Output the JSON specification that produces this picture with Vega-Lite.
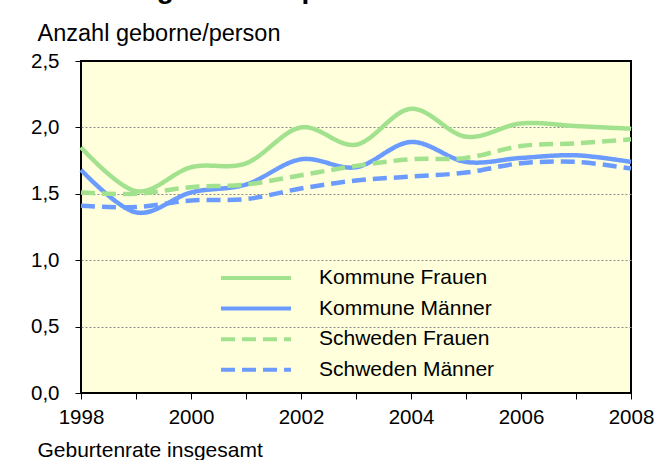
{
  "$schema": "https://vega.github.io/schema/vega-lite/v6.json",
  "width": 550,
  "height": 332,
  "autosize": {"type": "none"},
  "padding": {"left": 81, "top": 61, "right": 28, "bottom": 67},
  "background": "white",
  "title": {"text": "Entwicklung der Rate pro Person", "fontSize": 28, "fontWeight": "bold", "anchor": "start", "frame": "group", "orient": "top", "offset": 0, "dy": 5, "baseline": "alphabetic", "dx": -72, "color": "#000", "font": "Liberation Sans"},
  "data": {"values": [
    {"Jahr": 1998, "Wert": 1.85, "Serie": "Kommune Frauen"},
    {"Jahr": 1999, "Wert": 1.52, "Serie": "Kommune Frauen"},
    {"Jahr": 2000, "Wert": 1.70, "Serie": "Kommune Frauen"},
    {"Jahr": 2001, "Wert": 1.73, "Serie": "Kommune Frauen"},
    {"Jahr": 2002, "Wert": 2.00, "Serie": "Kommune Frauen"},
    {"Jahr": 2003, "Wert": 1.87, "Serie": "Kommune Frauen"},
    {"Jahr": 2004, "Wert": 2.14, "Serie": "Kommune Frauen"},
    {"Jahr": 2005, "Wert": 1.93, "Serie": "Kommune Frauen"},
    {"Jahr": 2006, "Wert": 2.03, "Serie": "Kommune Frauen"},
    {"Jahr": 2007, "Wert": 2.01, "Serie": "Kommune Frauen"},
    {"Jahr": 2008, "Wert": 1.99, "Serie": "Kommune Frauen"},
    {"Jahr": 1998, "Wert": 1.68, "Serie": "Kommune Männer"},
    {"Jahr": 1999, "Wert": 1.36, "Serie": "Kommune Männer"},
    {"Jahr": 2000, "Wert": 1.51, "Serie": "Kommune Männer"},
    {"Jahr": 2001, "Wert": 1.57, "Serie": "Kommune Männer"},
    {"Jahr": 2002, "Wert": 1.76, "Serie": "Kommune Männer"},
    {"Jahr": 2003, "Wert": 1.70, "Serie": "Kommune Männer"},
    {"Jahr": 2004, "Wert": 1.89, "Serie": "Kommune Männer"},
    {"Jahr": 2005, "Wert": 1.74, "Serie": "Kommune Männer"},
    {"Jahr": 2006, "Wert": 1.77, "Serie": "Kommune Männer"},
    {"Jahr": 2007, "Wert": 1.79, "Serie": "Kommune Männer"},
    {"Jahr": 2008, "Wert": 1.74, "Serie": "Kommune Männer"},
    {"Jahr": 1998, "Wert": 1.51, "Serie": "Schweden Frauen"},
    {"Jahr": 1999, "Wert": 1.50, "Serie": "Schweden Frauen"},
    {"Jahr": 2000, "Wert": 1.55, "Serie": "Schweden Frauen"},
    {"Jahr": 2001, "Wert": 1.57, "Serie": "Schweden Frauen"},
    {"Jahr": 2002, "Wert": 1.64, "Serie": "Schweden Frauen"},
    {"Jahr": 2003, "Wert": 1.71, "Serie": "Schweden Frauen"},
    {"Jahr": 2004, "Wert": 1.76, "Serie": "Schweden Frauen"},
    {"Jahr": 2005, "Wert": 1.77, "Serie": "Schweden Frauen"},
    {"Jahr": 2006, "Wert": 1.86, "Serie": "Schweden Frauen"},
    {"Jahr": 2007, "Wert": 1.88, "Serie": "Schweden Frauen"},
    {"Jahr": 2008, "Wert": 1.91, "Serie": "Schweden Frauen"},
    {"Jahr": 1998, "Wert": 1.41, "Serie": "Schweden Männer"},
    {"Jahr": 1999, "Wert": 1.40, "Serie": "Schweden Männer"},
    {"Jahr": 2000, "Wert": 1.45, "Serie": "Schweden Männer"},
    {"Jahr": 2001, "Wert": 1.46, "Serie": "Schweden Männer"},
    {"Jahr": 2002, "Wert": 1.54, "Serie": "Schweden Männer"},
    {"Jahr": 2003, "Wert": 1.60, "Serie": "Schweden Männer"},
    {"Jahr": 2004, "Wert": 1.63, "Serie": "Schweden Männer"},
    {"Jahr": 2005, "Wert": 1.66, "Serie": "Schweden Männer"},
    {"Jahr": 2006, "Wert": 1.73, "Serie": "Schweden Männer"},
    {"Jahr": 2007, "Wert": 1.74, "Serie": "Schweden Männer"},
    {"Jahr": 2008, "Wert": 1.69, "Serie": "Schweden Männer"}
  ]},
  "mark": {"type": "line", "interpolate": "cardinal", "strokeWidth": 4.5},
  "encoding": {
    "x": {
      "field": "Jahr", "type": "quantitative",
      "scale": {"domain": [1998, 2008], "nice": false, "zero": false},
      "axis": {
        "values": [1998, 1999, 2000, 2001, 2002, 2003, 2004, 2005, 2006, 2007, 2008],
        "format": "d",
        "labelExpr": "datum.value % 2 == 0 ? datum.label : ''",
        "labelOverlap": false,
        "labelFlush": false,
        "domain": false,
        "grid": false,
        "labelPadding": 8,
        "title": "Geburtenrate insgesamt",
        "titleFontSize": 21,
        "titleAnchor": "start",
        "titleAlign": "left",
        "titleBaseline": "alphabetic",
        "titleX": -44,
        "titleY": 63
      }
    },
    "y": {
      "field": "Wert", "type": "quantitative",
      "scale": {"domain": [0, 2.5], "nice": false},
      "axis": {
        "values": [0, 0.5, 1, 1.5, 2, 2.5],
        "labelExpr": "replace(format(datum.value, '.1f'), '.', ',')",
        "domain": false,
        "grid": true,
        "gridDash": [2, 2],
        "gridColor": "#8a8a8a",
        "gridOpacity": {"condition": {"test": "datum.value == 0 || datum.value == 2.5", "value": 0}, "value": 1},
        "labelPadding": 16,
        "title": "Anzahl geborne/person",
        "titleFontSize": 23.5,
        "titleAngle": 0,
        "titleAlign": "left",
        "titleBaseline": "alphabetic",
        "titleX": -44,
        "titleY": -21
      }
    },
    "color": {
      "field": "Serie", "type": "nominal",
      "scale": {"domain": ["Kommune Frauen", "Kommune Männer", "Schweden Frauen", "Schweden Männer"], "range": ["#a2e28f", "#6b9bff", "#a2e28f", "#6b9bff"]},
      "legend": {"title": null}
    },
    "strokeDash": {
      "field": "Serie", "type": "nominal",
      "scale": {"domain": ["Kommune Frauen", "Kommune Männer", "Schweden Frauen", "Schweden Männer"], "range": [[1, 0], [1, 0], [14, 7], [14, 7]]},
      "legend": {"title": null}
    }
  },
  "config": {
    "font": "Liberation Sans",
    "view": {"fill": "#ffffdb", "stroke": "#000", "strokeWidth": 2},
    "axis": {
      "labelFont": "Liberation Sans", "labelFontSize": 20.5, "labelColor": "#000",
      "tickColor": "#000", "tickSize": 6, "tickWidth": 1,
      "titleFont": "Liberation Sans", "titleFontSize": 22.5, "titleFontWeight": "normal", "titleColor": "#000"
    },
    "legend": {
      "orient": "none", "legendX": 138, "legendY": 207,
      "padding": 0,
      "symbolType": "stroke", "symbolSize": 4900, "symbolStrokeWidth": 4,
      "labelFont": "Liberation Sans", "labelFontSize": 21, "labelColor": "#000", "labelLimit": 400,
      "labelOffset": 26, "rowPadding": 9.6, "clipHeight": 20
    }
  }
}
